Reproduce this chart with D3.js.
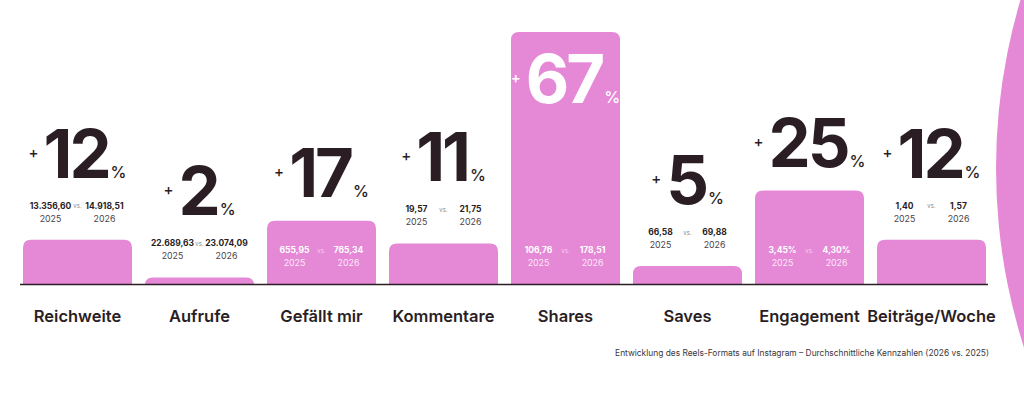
<!DOCTYPE html>
<html>
<head>
<meta charset="utf-8">
<script src="https://cdn.jsdelivr.net/npm/d3@7"></script>
<style>
  html, body { margin: 0; padding: 0; background: #fff; }
  svg { display: block; font-family: Inter, "Noto Sans", sans-serif; }
</style>
</head>
<body>
<div class="reels-chart"></div>
<script>
const categories = ["Reichweite", "Aufrufe", "Gefällt mir", "Kommentare", "Shares", "Saves", "Engagement", "Beiträge/Woche"];
const changePct = [12, 2, 17, 11, 67, 5, 25, 12];
const values2025 = [13356.60, 22689.63, 655.95, 19.57, 106.76, 66.58, 3.45, 1.40];
const values2026 = [14918.51, 23074.09, 765.34, 21.75, 178.51, 69.88, 4.30, 1.57];
const units = ["", "", "", "", "", "", "%", ""];
const years = ["2025", "2026"];
const caption = "Entwicklung des Reels-Formats auf Instagram – Durchschnittliche Kennzahlen (2026 vs. 2025)";

drawChart();

function drawChart() {
  const width = 1024,
    height = 400,
    baseline = 285,
    pink = "#e589d7",
    dark = "#2a1e24",
    radius = 8;

  const de = d3.formatLocale({ decimal: ",", thousands: ".", grouping: [3], currency: ["", "€"] });
  const fmt = de.format(",.2f");

  const data = categories.map((name, i) => ({
    name: name,
    pct: changePct[i],
    a: fmt(values2025[i]) + units[i],
    b: fmt(values2026[i]) + units[i]
  }));

  const svg = d3.select(".reels-chart")
    .append("svg")
    .attr("width", width)
    .attr("height", height);

  // big decorative circle on the right
  svg.append("circle")
    .attr("cx", 1586)
    .attr("cy", 168)
    .attr("r", 590)
    .attr("fill", pink);

  const x = d3.scaleBand()
    .domain(categories)
    .range([23, 986])
    .paddingInner(0.1066)
    .paddingOuter(0);

  const y = d3.scaleLinear()
    .domain([0, 67])
    .range([baseline, 32]);

  const bw = x.bandwidth();

  // bars with rounded top corners
  function barPath(d) {
    const x0 = x(d.name), x1 = x0 + bw, top = y(d.pct);
    const r = Math.min(radius, (baseline - top));
    return `M${x0},${baseline}V${top + r}Q${x0},${top} ${x0 + r},${top}H${x1 - r}Q${x1},${top} ${x1},${top + r}V${baseline}Z`;
  }

  const groups = svg.selectAll(".bar-group")
    .data(data)
    .enter()
    .append("g")
    .attr("class", "bar-group");

  groups.append("path")
    .attr("d", barPath)
    .attr("fill", pink);

  // baseline
  svg.append("line")
    .attr("x1", 20)
    .attr("x2", 988)
    .attr("y1", baseline - 0.5)
    .attr("y2", baseline - 0.5)
    .attr("stroke", dark)
    .attr("stroke-width", 1.6);

  groups.each(function(d) {
    const g = d3.select(this);
    const cx = x(d.name) + bw / 2;
    const top = y(d.pct);
    const h = baseline - top;
    const inside = h > 55;
    const numInside = top < 110;

    // comparison values
    const valY = inside ? 253 : top - 31;
    const yearY = inside ? 265.5 : top - 18;
    const valColor = inside ? "#ffffff" : dark;
    const yearColor = inside ? "#fde8f8" : "#4a4448";
    const vsColor = inside ? "#f6cdef" : "#8a8488";

    [d.a, d.b].forEach((v, k) => {
      const colX = cx + (k === 0 ? -27 : 27);
      g.append("text")
        .attr("x", colX)
        .attr("y", valY)
        .attr("text-anchor", "middle")
        .attr("font-size", 8.5)
        .attr("font-weight", 700)
        .attr("fill", valColor)
        .text(v);
      g.append("text")
        .attr("x", colX)
        .attr("y", yearY)
        .attr("text-anchor", "middle")
        .attr("font-size", 8.8)
        .attr("font-weight", 400)
        .attr("fill", yearColor)
        .text(years[k]);
    });

    g.append("text")
      .attr("x", cx)
      .attr("y", valY - 0.5)
      .attr("text-anchor", "middle")
      .attr("font-size", 6)
      .attr("fill", vsColor)
      .text("vs.");

    // big percentage
    const numY = numInside ? top + 71 : (inside ? top - 24 : top - 62);
    const numColor = numInside ? "#ffffff" : dark;
    const t = g.append("text")
      .attr("x", cx)
      .attr("y", numY)
      .attr("text-anchor", "middle")
      .attr("fill", numColor);
    t.append("tspan")
      .attr("font-size", 15)
      .attr("font-weight", 500)
      .attr("dy", -20)
      .text("+");
    t.append("tspan")
      .attr("font-size", 67)
      .attr("font-weight", 700)
      .attr("letter-spacing", -3)
      .attr("dx", 5)
      .attr("dy", 20)
      .text(d.pct);
    t.append("tspan")
      .attr("font-size", 16)
      .attr("font-weight", 500)
      .attr("dx", 2)
      .text("%");

    // category label
    g.append("text")
      .attr("x", cx)
      .attr("y", 322)
      .attr("text-anchor", "middle")
      .attr("font-size", 16.5)
      .attr("font-weight", 600)
      .attr("fill", dark)
      .text(d.name);
  });

  svg.append("text")
    .attr("x", 989)
    .attr("y", 356)
    .attr("text-anchor", "end")
    .attr("font-size", 8.4)
    .attr("fill", "#3c3639")
    .text(caption);
}
</script>
</body>
</html>
